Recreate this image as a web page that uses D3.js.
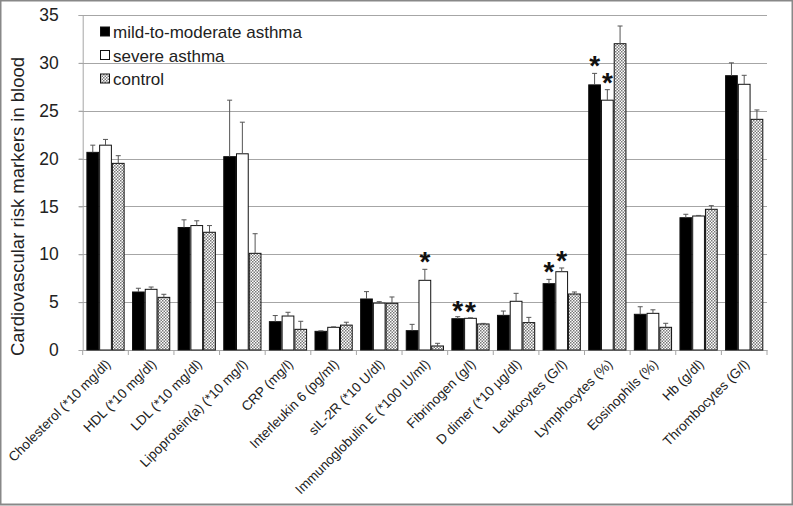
<!DOCTYPE html>
<html><head><meta charset="utf-8">
<script src="https://cdn.jsdelivr.net/npm/d3@7/dist/d3.min.js"></script>
<style>
html,body{margin:0;padding:0;background:#fff;}
svg{display:block;font-family:"Liberation Sans",Arial,sans-serif;}
</style></head>
<body>
<script>
const categories = ["Cholesterol (*10 mg/dl)","HDL (*10 mg/dl)","LDL (*10 mg/dl)","Lipoprotein(a) (*10 mg/l)","CRP (mg/l)","Interleukin 6 (pg/ml)","sIL-2R (*10 U/dl)","Immunoglobulin E (*100 IU/ml)","Fibrinogen (g/l)","D dimer (*10 µg/dl)","Leukocytes (G/l)","Lymphocytes (%)","Eosinophils (%)","Hb (g/dl)","Thrombocytes (G/l)"];
const seriesNames = ["mild-to-moderate asthma","severe asthma","control"];
const mildValues   = [20.65, 6.06, 12.8, 20.2, 2.96, 1.95, 5.33, 2.02, 3.27, 3.62, 6.93, 27.7, 3.73, 13.82, 28.66];
const mildErr      = [21.4, 6.45, 13.6, 26.1, 3.6, 2.0, 6.1, 2.68, 3.48, 4.07, 7.38, 28.9, 4.52, 14.18, 30.0];
const severeValues = [21.4, 6.34, 13.0, 20.5, 3.55, 2.37, 4.9, 7.28, 3.31, 5.09, 8.18, 26.1, 3.83, 14.0, 27.76];
const severeErr    = [22.0, 6.58, 13.5, 23.8, 3.94, 2.42, 5.05, 8.43, 3.36, 5.92, 8.57, 27.2, 4.2, 14.06, 28.7];
const controlValues= [19.5, 5.5, 12.3, 10.1, 2.16, 2.6, 4.88, 0.42, 2.72, 2.86, 5.85, 32.0, 2.37, 14.7, 24.1];
const controlErr   = [20.3, 5.82, 13.0, 12.15, 3.0, 2.9, 5.54, 0.7, 2.78, 3.41, 6.06, 33.85, 2.79, 15.08, 25.08];
// significance markers: [categoryIndex, seriesIndex]
const stars = [[7,1],[8,0],[8,1],[10,0],[10,1],[11,0],[11,1]];
const yTicks = [0,5,10,15,20,25,30,35];
const yLabel = "Cardiovascular risk markers in blood";

const W=793,H=506;
const m={l:82.7,r:26,t:15,b:156};
const svg=d3.select("body").append("svg").attr("width",W).attr("height",H);
const defs=svg.append("defs");
const pat=defs.append("pattern").attr("id","chk").attr("patternUnits","userSpaceOnUse").attr("width",3).attr("height",3);
pat.append("rect").attr("width",3).attr("height",3).attr("fill","#fff");
pat.append("rect").attr("width",1.5).attr("height",1.5).attr("fill","#777");
pat.append("rect").attr("x",1.5).attr("y",1.5).attr("width",1.5).attr("height",1.5).attr("fill","#777");

svg.append("rect").attr("x",0.5).attr("y",0.5).attr("width",W-1).attr("height",H-2).attr("fill","none").attr("stroke","#888").attr("stroke-width",2);

const x=d3.scaleBand().domain(categories).range([m.l,W-m.r]).paddingInner(0);
const y=d3.scaleLinear().domain([0,35]).range([H-m.b,m.t]);
const inner=d3.scaleBand().domain([0,1,2]).range([0,x.bandwidth()]).paddingOuter(0.29).paddingInner(0);

// gridlines
svg.append("g").selectAll("line").data(yTicks.filter(d=>d>0)).join("line")
 .attr("x1",m.l-4).attr("x2",W-m.r).attr("y1",d=>Math.round(y(d))+0.5).attr("y2",d=>Math.round(y(d))+0.5)
 .attr("stroke","#a6a6a6").attr("stroke-width",1);

// y axis
const ya=svg.append("g").attr("transform",`translate(${m.l},0)`).call(d3.axisLeft(y).tickValues(yTicks).tickSize(4).tickPadding(20));
ya.select(".domain").attr("stroke","#a6a6a6");
ya.selectAll(".tick line").attr("stroke","#a6a6a6");
ya.selectAll("text").attr("font-size",17.5).attr("fill","#222").attr("font-family","Liberation Sans, Arial, sans-serif");

// x axis
const xa=svg.append("g").attr("transform",`translate(0,${y(0)})`).call(d3.axisBottom(x).tickSize(0).tickFormat(""));
xa.select(".domain").attr("stroke","#a6a6a6");
svg.append("g").selectAll("line").data(d3.range(categories.length+1)).join("line")
 .attr("x1",i=>m.l+i*x.bandwidth()).attr("x2",i=>m.l+i*x.bandwidth())
 .attr("y1",y(0)).attr("y2",y(0)+5).attr("stroke","#a6a6a6");

svg.append("g").selectAll("text").data(categories).join("text")
 .attr("transform",d=>`translate(${x(d)+x.bandwidth()/2+6},${y(0)+15}) rotate(-45)`)
 .attr("text-anchor","end").attr("font-size",13.5).attr("fill","#222").text(d=>d);

// y label
svg.append("text").attr("transform",`translate(24,${(y(0)+y(35))/2+24}) rotate(-90)`)
 .attr("text-anchor","middle").attr("font-size",18.5).attr("fill","#222").text(yLabel);

const series=[
 {vals:mildValues,err:mildErr,fill:"#000"},
 {vals:severeValues,err:severeErr,fill:"#fff"},
 {vals:controlValues,err:controlErr,fill:"url(#chk)"}];

series.forEach((s,si)=>{
 const g=svg.append("g");
 const eg=svg.append("g");
 categories.forEach((c,ci)=>{
  const cx=x(c)+inner(si)+inner.bandwidth()/2;
  eg.append("line").attr("x1",cx).attr("x2",cx).attr("y1",y(s.vals[ci])).attr("y2",y(s.err[ci])).attr("stroke","#555").attr("stroke-width",1);
  eg.append("line").attr("x1",cx-2.5).attr("x2",cx+2.5).attr("y1",y(s.err[ci])).attr("y2",y(s.err[ci])).attr("stroke","#555").attr("stroke-width",1);
 });
 g.selectAll("rect").data(s.vals).join("rect")
  .attr("x",(d,i)=>x(categories[i])+inner(si)+0.5)
  .attr("y",d=>y(d))
  .attr("width",inner.bandwidth()-1)
  .attr("height",d=>y(0)-y(d))
  .attr("fill",s.fill).attr("stroke","#111").attr("stroke-width",1);
});

// stars
svg.append("g").selectAll("text").data(stars).join("text")
 .attr("x",d=>x(categories[d[0]])+inner(d[1])+inner.bandwidth()/2)
 .attr("y",d=>y(series[d[1]].err[d[0]])+ (d[0]==8?-1:-2) + 18)
 .attr("dy",-14)
 .attr("text-anchor","middle").attr("font-size",28).attr("font-weight","bold").attr("fill","#111").text("*");

// legend
const lg=svg.append("g").attr("transform","translate(100,32)");
seriesNames.forEach((n,i)=>{
 const gy=i*23.5;
 lg.append("rect").attr("x",0.5).attr("y",gy-5).attr("width",9).attr("height",9)
  .attr("fill",series[i].fill).attr("stroke","#111").attr("stroke-width",1);
 lg.append("text").attr("x",13).attr("y",gy+6).attr("font-size",17).attr("fill","#222").text(n);
});
</script>
</body></html>
